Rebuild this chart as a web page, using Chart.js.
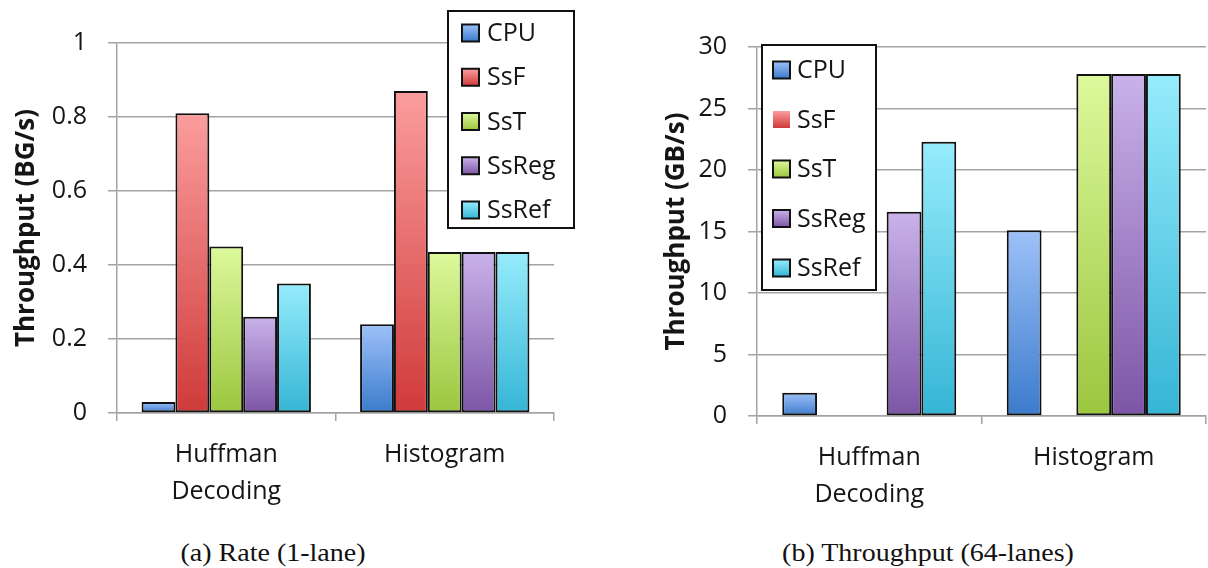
<!DOCTYPE html>
<html>
<head>
<meta charset="utf-8">
<script src="https://cdn.jsdelivr.net/npm/chart.js@4.4.0/dist/chart.umd.min.js"></script>
<style>
  body { margin: 0; background: #fff; width: 1208px; height: 568px; position: relative; overflow: hidden; }
  .panel { position: absolute; top: 0; width: 604px; height: 520px; }
  .cap { position: absolute; top: 540px; width: 400px; text-align: center; font-family: 'Liberation Serif', serif; font-size: 25px; line-height: 26px; color: #111; transform: scaleX(1.12); }
</style>
</head>
<body>
<div class="panel" style="left:0"><canvas id="rate"></canvas></div>
<div class="panel" style="left:604px"><canvas id="tput"></canvas></div>
<div class="cap" style="left:73px">(a) Rate (1-lane)</div>
<div class="cap" style="left:728px">(b) Throughput (64-lanes)</div>
<script>
// categories and series
let categories = [['Huffman', 'Decoding'], 'Histogram'];
let seriesNames = ['CPU', 'SsF', 'SsT', 'SsReg', 'SsRef'];

// (a) rate, 1 lane (BG/s)
let rateCPU   = [0.03, 0.24];
let rateSsF   = [0.81, 0.87];
let rateSsT   = [0.45, 0.435];
let rateSsReg = [0.26, 0.435];
let rateSsRef = [0.35, 0.435];

// (b) throughput, 64 lanes (GB/s) - SsF has no bars, SsT none for Huffman
let tputCPU   = [1.9, 15.1];
let tputSsF   = [null, null];
let tputSsT   = [null, 27.8];
let tputSsReg = [16.6, 27.8];
let tputSsRef = [22.3, 27.8];

// light top -> dark bottom
let gradTop    = ['#9dc1f8', '#fb9d9d', '#ddf99c', '#c9b2ea', '#96ecfc'];
let gradBottom = ['#3b7bcc', '#d03a3a', '#9bc63e', '#7d55a6', '#35b5d5'];

let gridGray = '#a3a3a3';
let textColor = '#151515';
let fontFam = "'Open Sans', sans-serif";

function barFill(i) {
  return (ctx) => {
    let chart = ctx.chart;
    let y = chart.scales.y;
    if (!y || !ctx.parsed || ctx.parsed.y == null) return gradBottom[i];
    let top = y.getPixelForValue(ctx.parsed.y);
    let base = y.getPixelForValue(0);
    if (!isFinite(top) || !isFinite(base) || top === base) return gradBottom[i];
    let g = chart.ctx.createLinearGradient(0, top, 0, base);
    g.addColorStop(0, gradTop[i]);
    g.addColorStop(1, gradBottom[i]);
    return g;
  };
}

// boxed legend drawn on top of the plot
const boxLegend = {
  id: 'boxLegend',
  afterDraw(chart, args, o) {
    let c = chart.ctx;
    c.save();
    c.fillStyle = '#fff';
    c.fillRect(o.x, o.y, o.w, o.h);
    c.strokeStyle = '#111';
    c.lineWidth = 2;
    c.strokeRect(o.x, o.y, o.w, o.h);
    c.font = '25px ' + fontFam;
    c.textBaseline = 'middle';
    c.fillStyle = textColor;
    chart.data.datasets.forEach((ds, i) => {
      let cy = o.row0 + i * o.gap;
      let sx = o.x + o.swatchX, sy = cy - 8.5;
      let g = c.createLinearGradient(0, sy, 0, sy + 17);
      g.addColorStop(0, gradTop[i]);
      g.addColorStop(1, gradBottom[i]);
      c.fillStyle = g;
      c.fillRect(sx, sy, 17, 17);
      if (!(o.noBorder || []).includes(i)) {
        c.strokeStyle = '#111';
        c.lineWidth = 2;
        c.strokeRect(sx, sy, 17, 17);
      }
      c.fillStyle = textColor;
      c.fillText(ds.label, o.x + o.textX, cy + 1);
    });
    c.restore();
  }
};

function makeDatasets(values) {
  return values.map((v, i) => ({
    label: seriesNames[i],
    data: v,
    backgroundColor: barFill(i),
    borderColor: '#111',
    borderWidth: 2,
    borderSkipped: false,
    categoryPercentage: 0.775,
    barPercentage: 1.0
  }));
}

function makeChart(id, values, yTitle, yMax, yStep, yWidth, pad, legend) {
  return new Chart(document.getElementById(id).getContext('2d'), {
    type: 'bar',
    data: { labels: categories, datasets: makeDatasets(values) },
    options: {
      responsive: true,
      maintainAspectRatio: false,
      animation: false,
      layout: { padding: pad },
      plugins: { legend: { display: false }, tooltip: { enabled: false }, boxLegend: legend },
      scales: {
        x: {
          afterFit: (s) => { s.height = 520 - pad.bottomAxis; },
          grid: { display: true, drawOnChartArea: false, tickLength: 8, color: gridGray, lineWidth: 1.5 },
          border: { color: gridGray, width: 1.5 },
          ticks: { color: textColor, padding: 15, maxRotation: 0, autoSkip: false,
                   font: { family: fontFam, size: 25, lineHeight: 1.48 } }
        },
        y: {
          min: 0, max: yMax,
          afterFit: (s) => { s.width = yWidth; },
          grid: { color: gridGray, lineWidth: 1.5, tickLength: 9 },
          border: { color: gridGray, width: 1.5 },
          ticks: { stepSize: yStep, color: textColor, padding: 21, font: { family: fontFam, size: 25 },
                   callback: (v) => String(Number(v.toFixed(2))) },
          title: { display: true, text: yTitle, color: textColor, padding: { top: 11, bottom: 0 },
                   font: { family: fontFam, size: 26, weight: 'bold' } }
        }
      }
    },
    plugins: [boxLegend]
  });
}

makeChart('rate', [rateCPU, rateSsF, rateSsT, rateSsReg, rateSsRef],
  'Throughput (BG/s)', 1, 0.2, 117,
  { top: 43, right: 50, left: 0, bottom: 0, bottomAxis: 413 },
  { x: 448, y: 11, w: 126, h: 217, row0: 33, gap: 44.25, swatchX: 14, textX: 39 });

makeChart('tput', [tputCPU, tputSsF, tputSsT, tputSsReg, tputSsRef],
  'Throughput (GB/s)', 30, 5, 107,
  { top: 47, right: 2, left: 46, bottom: 0, bottomAxis: 416 },
  { x: 158, y: 45, w: 114, h: 245, row0: 70, gap: 49.5, swatchX: 11, textX: 35, noBorder: [1] });
</script>
</body>
</html>
